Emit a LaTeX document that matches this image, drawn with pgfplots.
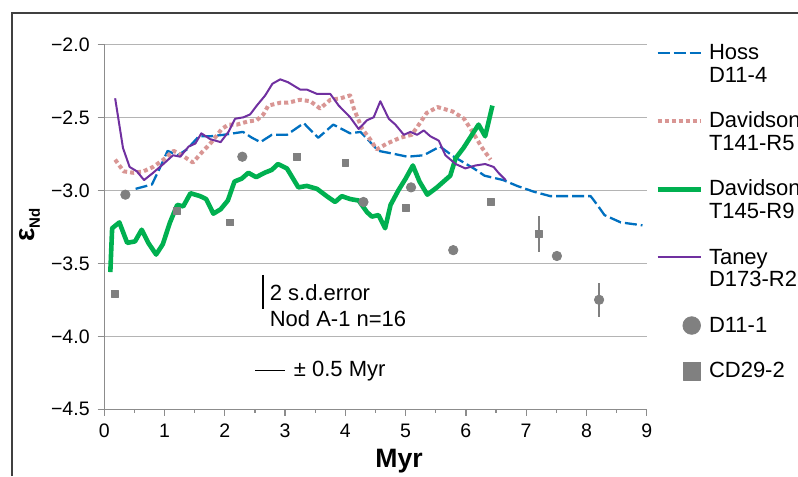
\documentclass[border=0pt]{standalone}
\usepackage{pgfplots}
\pgfplotsset{compat=1.18}
\usepackage{fontspec}
\setmainfont{Liberation Sans}
\definecolor{myblue}{RGB}{0,112,192}
\definecolor{mypink}{RGB}{217,150,148}
\definecolor{mygreen}{RGB}{0,176,80}
\definecolor{mypurple}{RGB}{112,48,160}
\definecolor{markgray}{RGB}{128,128,128}
\definecolor{gridgray}{RGB}{180,180,180}
\definecolor{axisgray}{RGB}{140,140,140}
\definecolor{framegray}{RGB}{64,64,64}
\newcommand\legtwo[2]{\raisebox{0pt}[8pt][14.2pt]{\begin{tabular}[t]{@{}l@{}}#1\\#2\end{tabular}}}
\newcommand\legone[1]{\raisebox{0pt}[8pt][3pt]{#1}}
\pgfplotsset{
  lineleg/.style={legend image code/.code={\draw[##1] (0pt,3.3pt) -- (21.5pt,3.3pt);}},
  markleg/.style={legend image code/.code={\draw[##1, mark size=4.4pt] plot coordinates {(17pt,3.3pt)};}},
}
\begin{document}
\begin{tikzpicture}[trim right=399pt]
\path (0,0) rectangle (399pt,238pt);
\draw[framegray, line width=0.9pt] (5.85pt,0pt) -- (5.85pt,231.35pt) -- (399pt,231.35pt);
\begin{axis}[
  scale only axis, width=271.2pt, height=182.5pt,
  at={(52.15pt,33.35pt)}, anchor=south west,
  xmin=0, xmax=9, ymin=-4.5, ymax=-2.0,
  xtick={0,1,...,9}, minor x tick num=1,
  ytick={-4.5,-4.0,-3.5,-3.0,-2.5,-2.0},
  yticklabels={−4.5,−4.0,−3.5,−3.0,−2.5,−2.0},
  axis x line*=bottom, axis y line*=left,
  axis line style={draw=axisgray, line width=0.6pt},
  every tick/.style={draw=axisgray, line width=0.6pt},
  tick align=outside, major tick length=3.3pt, minor tick length=1.7pt,
  ymajorgrids, grid style={gridgray, line width=0.6pt},
  tick label style={font=\fontsize{9.75}{11}\selectfont, inner sep=0pt},
  /pgf/number format/assume math mode=true,
  yticklabel shift=3.85pt, xticklabel shift=3.7pt,
  legend style={at={(axis description cs:1.0153,1.0027)}, anchor=north west,
    draw=none, fill=none, inner sep=0pt, row sep=11.85pt, column sep=3pt,
    nodes={inner sep=0pt, text depth=}, cells={anchor=base west},
    font=\fontsize{11}{11.2}\selectfont},
  line join=round,
]
\addplot[myblue, line width=1.15pt, dash pattern=on 6pt off 2pt, lineleg]
coordinates {(0.52,-2.99) (0.79,-2.96) (0.93,-2.84) (1.05,-2.73) (1.22,-2.76) (1.37,-2.72) (1.57,-2.63) (1.76,-2.63) (1.98,-2.62) (2.14,-2.61) (2.30,-2.60) (2.45,-2.64) (2.59,-2.67) (2.78,-2.62) (3.03,-2.62) (3.31,-2.54) (3.55,-2.64) (3.80,-2.55) (4.08,-2.61) (4.25,-2.60) (4.39,-2.66) (4.55,-2.73) (4.80,-2.75) (5.03,-2.77) (5.30,-2.76) (5.57,-2.70) (5.80,-2.77) (6.13,-2.85) (6.31,-2.90) (6.62,-2.93) (6.85,-2.97) (7.13,-3.01) (7.40,-3.04) (7.71,-3.04) (8.07,-3.04) (8.18,-3.10) (8.30,-3.17) (8.57,-3.22) (8.93,-3.24)};
\addlegendentry{\legtwo{Hoss}{D11-4}}
\addplot[mypink, line width=2pt, dash pattern=on 2pt off 1.5pt, lineleg]
coordinates {(0.18,-2.79) (0.32,-2.87) (0.48,-2.88) (0.65,-2.87) (0.81,-2.84) (0.98,-2.79) (1.15,-2.73) (1.29,-2.76) (1.47,-2.81) (1.62,-2.74) (1.78,-2.67) (1.95,-2.58) (2.06,-2.55) (2.20,-2.55) (2.37,-2.53) (2.53,-2.52) (2.64,-2.48) (2.72,-2.42) (2.92,-2.40) (3.05,-2.40) (3.25,-2.38) (3.42,-2.39) (3.58,-2.44) (3.75,-2.38) (3.92,-2.37) (4.08,-2.35) (4.14,-2.44) (4.28,-2.58) (4.41,-2.65) (4.52,-2.72) (4.69,-2.68) (4.91,-2.64) (5.10,-2.62) (5.22,-2.55) (5.35,-2.47) (5.53,-2.43) (5.78,-2.46) (5.97,-2.51) (6.11,-2.60) (6.27,-2.71) (6.41,-2.79)};
\addlegendentry{\legtwo{Davidson}{T141-R5}}
\addplot[mygreen, line width=2.3pt, lineleg]
coordinates {(0.10,-3.56) (0.13,-3.26) (0.25,-3.22) (0.38,-3.36) (0.51,-3.35) (0.62,-3.27) (0.73,-3.36) (0.86,-3.44) (0.97,-3.37) (1.09,-3.22) (1.21,-3.10) (1.31,-3.11) (1.43,-3.02) (1.59,-3.04) (1.69,-3.06) (1.81,-3.16) (1.93,-3.13) (2.05,-3.07) (2.16,-2.94) (2.28,-2.92) (2.39,-2.88) (2.52,-2.91) (2.66,-2.88) (2.78,-2.86) (2.88,-2.82) (3.03,-2.85) (3.22,-2.98) (3.36,-2.97) (3.53,-2.99) (3.69,-3.04) (3.83,-3.08) (3.94,-3.04) (4.08,-3.06) (4.22,-3.07) (4.36,-3.15) (4.44,-3.18) (4.55,-3.17) (4.66,-3.26) (4.75,-3.10) (4.88,-3.00) (5.00,-2.92) (5.12,-2.83) (5.23,-2.94) (5.36,-3.03) (5.52,-2.98) (5.74,-2.90) (5.83,-2.78) (5.96,-2.71) (6.10,-2.62) (6.21,-2.55) (6.32,-2.63) (6.44,-2.42)};
\addlegendentry{\legtwo{Davidson}{T145-R9}}
\addplot[mypurple, line width=1pt, lineleg]
coordinates {(0.18,-2.37) (0.31,-2.71) (0.42,-2.84) (0.54,-2.87) (0.66,-2.93) (0.81,-2.88) (0.98,-2.82) (1.14,-2.76) (1.26,-2.77) (1.40,-2.70) (1.51,-2.68) (1.61,-2.61) (1.76,-2.65) (1.93,-2.67) (2.06,-2.60) (2.17,-2.51) (2.31,-2.50) (2.42,-2.48) (2.53,-2.42) (2.67,-2.35) (2.79,-2.27) (2.92,-2.24) (3.05,-2.26) (3.25,-2.31) (3.36,-2.31) (3.53,-2.34) (3.75,-2.34) (3.89,-2.42) (4.08,-2.50) (4.22,-2.58) (4.36,-2.52) (4.47,-2.50) (4.58,-2.39) (4.72,-2.51) (4.83,-2.55) (4.97,-2.62) (5.08,-2.60) (5.19,-2.62) (5.30,-2.59) (5.41,-2.63) (5.55,-2.66) (5.66,-2.76) (5.83,-2.82) (5.99,-2.85) (6.16,-2.83) (6.32,-2.82) (6.46,-2.84) (6.54,-2.88) (6.66,-2.93)};
\addlegendentry{\legtwo{Taney}{D173-R2}}
% error bars
\addplot[forget plot, draw=none, mark=none, error bars/.cd, y dir=both, y explicit,
  error mark=none, error bar style={markgray, line width=0.7pt}]
coordinates {(8.21,-3.75) +- (0,0.115) (7.21,-3.30) +- (0,0.125)};
\addplot[only marks, mark=*, mark size=2.35pt, color=markgray, mark options={draw=markgray, fill=markgray}, markleg]
coordinates {(0.35,-3.03) (2.29,-2.77) (4.30,-3.08) (5.09,-2.98) (5.79,-3.41) (7.51,-3.45) (8.21,-3.75)};
\addlegendentry{\legone{D11-1}}
\addplot[only marks, mark=square*, mark size=1.7pt, color=markgray, mark options={draw=markgray, fill=markgray}, markleg]
coordinates {(0.18,-3.71) (1.20,-3.14) (2.09,-3.22) (3.20,-2.77) (4.00,-2.81) (5.00,-3.12) (6.41,-3.08) (7.21,-3.30)};
\addlegendentry{\legone{CD29-2}}
% annotation scale bars
\addplot[forget plot, black, line width=0.7pt] coordinates {(2.636,-3.580) (2.636,-3.813)};
\addplot[forget plot, black, line width=0.7pt] coordinates {(2.503,-4.2356) (3.002,-4.2356)};
\node[anchor=base west, inner sep=0pt, font=\fontsize{11}{12}\selectfont] at (axis cs:2.74,-3.755) {2 s.d.error};
\node[anchor=base west, inner sep=0pt, font=\fontsize{11}{12}\selectfont] at (axis cs:2.74,-3.934) {Nod A-1 n=16};
\node[anchor=base west, inner sep=0pt, font=\fontsize{11}{12}\selectfont] at (axis cs:3.14,-4.277) {± 0.5 Myr};
\end{axis}
\node[anchor=base west, inner sep=0pt, font=\fontsize{13.3}{14}\selectfont\bfseries] at (187.5pt,4.35pt) {Myr};
\node[rotate=90, inner sep=0pt, font=\bfseries] at (15pt,125.5pt) {\fontsize{14}{14}\selectfont ε\raisebox{-2.5pt}{\fontsize{7.5}{8}\selectfont Nd}};
\end{tikzpicture}
\end{document}
